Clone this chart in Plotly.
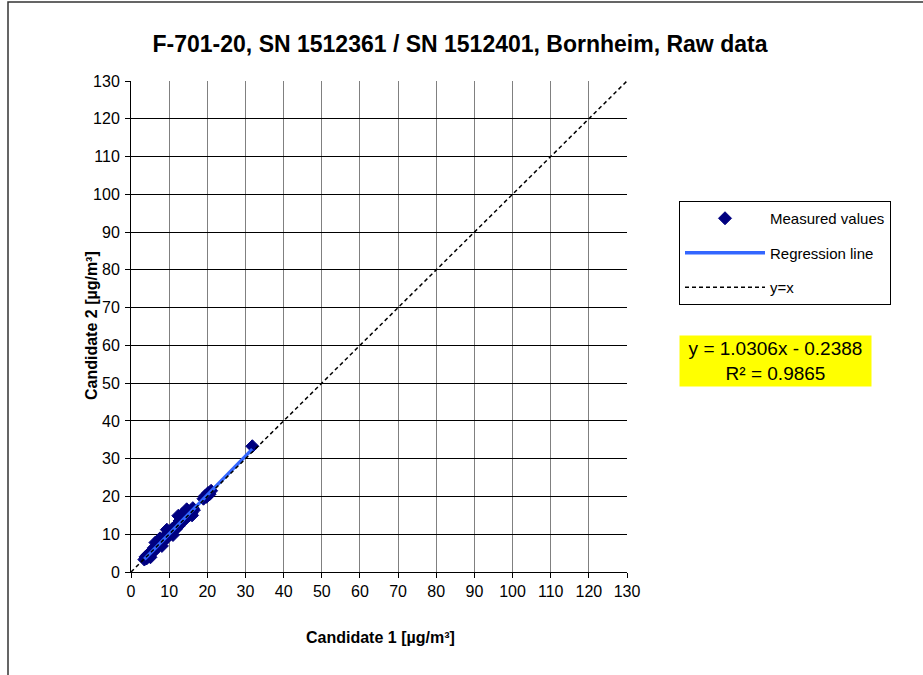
import plotly.graph_objects as go

# ---- data ----
cand1 = [3.5, 3.8, 4.1, 4.3, 4.6, 4.9, 5.2, 5.5, 5.8, 6.0, 6.3, 6.6, 6.9, 7.2, 7.4, 7.7,
         8.0, 8.2, 8.5, 8.8, 9.0, 9.3, 9.6, 9.8, 10.1, 10.4, 10.6, 10.9, 11.2, 11.5, 11.8,
         12.1, 12.4, 12.7, 13.0, 13.2, 13.5, 13.8, 14.1, 14.4, 14.7, 15.0, 15.3, 15.6,
         15.9, 16.2, 16.5, 19.0, 19.4, 19.8, 20.2, 20.6, 21.0, 31.8,
         5.1, 6.4, 8.1, 9.4, 12.4, 14.6, 16.0, 7.6, 11.0, 13.4]
cand2 = [3.3, 4.0, 3.6, 4.5, 4.2, 5.0, 4.8, 5.6, 5.3, 6.4, 5.9, 6.8, 6.5, 7.6, 7.1, 8.2,
         7.6, 8.6, 8.3, 9.2, 8.7, 9.8, 9.2, 10.4, 9.9, 10.9, 10.3, 11.5, 11.0, 11.9, 11.4,
         12.6, 12.1, 13.5, 12.8, 14.2, 13.6, 14.6, 14.0, 15.1, 14.5, 15.6, 15.0, 16.2,
         15.7, 16.9, 16.4, 19.4, 20.1, 19.9, 20.9, 20.6, 21.5, 33.3,
         3.9, 7.8, 6.9, 11.2, 14.9, 16.6, 15.0, 8.9, 9.8, 15.3]
slope = 1.0306
intercept = -0.2388
r_squared = 0.9865
diag = [0, 130]
tick_vals = list(range(0, 131, 10))

title_text = "F-701-20, SN 1512361 / SN 1512401, Bornheim, Raw data"
x_title = "Candidate 1 [µg/m³]"
y_title = "Candidate 2 [µg/m³]"

FONT = "Liberation Sans, Arial, sans-serif"

reg_x = [min(cand1), max(cand1)]
reg_y = [slope * v + intercept for v in reg_x]

fig = go.Figure()
fig.add_trace(go.Scatter(
    x=cand1, y=cand2, mode="markers", name="Measured values", legendgroup="a",
    marker=dict(symbol="diamond", size=10, color="#000080",
                line=dict(color="#000080", width=1)),
))
fig.add_trace(go.Scatter(
    x=reg_x, y=reg_y, mode="lines", name="Regression line", legendgroup="b",
    line=dict(color="#3366FF", width=3.5),
))
fig.add_trace(go.Scatter(
    x=diag, y=diag, mode="lines", name="y=x", legendgroup="c",
    line=dict(color="black", width=1.5, dash="4px,3px"),
))

L, R, T, B = 131, 923 - 627, 81, 675 - 572
W = 627 - 131
H = 572 - 81

def px(xp):
    return (xp - L) / W

def py(yp):
    return (572 - yp) / H

fig.update_layout(
    width=923, height=675,
    margin=dict(l=L, r=R, t=T, b=B, pad=0),
    paper_bgcolor="white", plot_bgcolor="white",
    font=dict(family=FONT, size=16, color="black"),
    title=dict(text="<b>" + title_text + "</b>", x=460 / 923, xanchor="center",
               y=1 - 44 / 675, yanchor="middle",
               font=dict(family=FONT, size=23, color="black")),
    showlegend=True,
    legend=dict(x=px(679), y=py(201), xanchor="left", yanchor="top",
                bordercolor="black", borderwidth=1, bgcolor="white",
                font=dict(family=FONT, size=15, color="black"),
                tracegroupgap=12, itemwidth=80),
    xaxis=dict(range=[0, 130], tickvals=tick_vals, showgrid=True,
               gridcolor="#808080", gridwidth=1, showline=True, linecolor="black",
               linewidth=1, ticks="outside", ticklen=5, tickcolor="black",
               zeroline=False, mirror=False,
               tickfont=dict(family=FONT, size=16, color="black")),
    yaxis=dict(range=[0, 130], tickvals=tick_vals, showgrid=True,
               gridcolor="black", gridwidth=1, showline=True, linecolor="black",
               linewidth=1, ticks="outside", ticklen=5, tickcolor="black",
               zeroline=False, mirror=False, ticklabelstandoff=2,
               tickfont=dict(family=FONT, size=16, color="black")),
    annotations=[
        dict(text="<b>" + x_title + "</b>", xref="paper", yref="paper",
             x=px(380), y=py(637), xanchor="center", yanchor="middle",
             showarrow=False, font=dict(family=FONT, size=16, color="black")),
        dict(text="<b>" + y_title + "</b>", xref="paper", yref="paper",
             x=px(91), y=py(326), xanchor="center", yanchor="middle",
             textangle=-90, showarrow=False,
             font=dict(family=FONT, size=16, color="black")),
        dict(text=f"y = {slope:.4f}x - {abs(intercept):.4f}<br>R² = {r_squared:.4f}",
             xref="paper", yref="paper", x=px(775.5), y=py(361),
             xanchor="center", yanchor="middle", showarrow=False, align="center",
             bgcolor="#FFFF00", borderpad=2, width=187,
             font=dict(family=FONT, size=19, color="black")),
    ],
    shapes=[
        dict(type="rect", xref="paper", yref="paper",
             x0=px(8), x1=px(960), y0=py(720), y1=py(2),
             line=dict(color="#333333", width=1.5), fillcolor="rgba(0,0,0,0)",
             layer="below"),
    ],
)

fig.write_html("out.html")
